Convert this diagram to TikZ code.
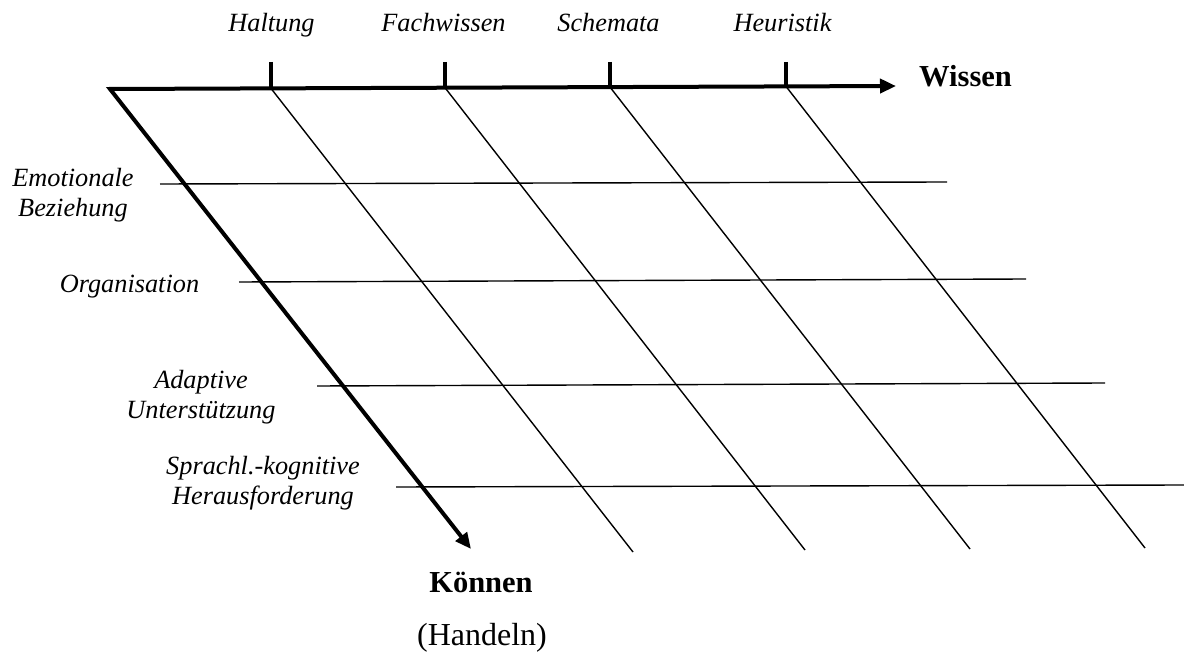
\documentclass[tikz,border=0pt]{standalone}
\usepackage{fontspec}
\setmainfont{Liberation Serif}
\usetikzlibrary{arrows.meta}
\begin{document}
\begin{tikzpicture}[x=1pt,y=-1pt,
  axisline/.style={line width=4pt, line join=miter,
    {Triangle[length=16pt,width=14pt]}-{Triangle[length=16pt,width=14pt]}},
  tickline/.style={line width=4pt},
  gridline/.style={line width=1.4pt},
  toplabel/.style={font=\fontsize{26.3}{29.5}\selectfont\itshape, anchor=base, inner sep=0pt},
  sidelabel/.style={font=\fontsize{26.3}{29.5}\selectfont\itshape, align=center, inner sep=0pt},
  dimlabel/.style={font=\fontsize{30.5}{34}\selectfont\bfseries, anchor=base, inner sep=0pt},
  sublabel/.style={font=\fontsize{32}{36}\selectfont, anchor=base, inner sep=0pt}
]
\useasboundingbox (0,0) rectangle (1184,652);

% axis coordinates
\coordinate (O) at (110,89);
\coordinate (W) at (896,86);
\coordinate (K) at (471,549);

% ticks on Wissen axis
\coordinate (T1) at (271,88.4);  \coordinate (T1u) at (271,62);
\coordinate (T2) at (445,87.7);  \coordinate (T2u) at (445,62);
\coordinate (T3) at (610,87.1);  \coordinate (T3u) at (610,62);
\coordinate (T4) at (786,86.4);  \coordinate (T4u) at (786,62);

% ends of diagonals
\coordinate (D1) at (633,552);
\coordinate (D2) at (805,550);
\coordinate (D3) at (970,549);
\coordinate (D4) at (1145,548);

% horizontal grid lines
\coordinate (H1a) at (160,184);  \coordinate (H1b) at (947,182);
\coordinate (H2a) at (239,282);  \coordinate (H2b) at (1026,279);
\coordinate (H3a) at (317,386);  \coordinate (H3b) at (1105,383);
\coordinate (H4a) at (396,487);  \coordinate (H4b) at (1184,485);

% grid
\draw[gridline] (T1) -- (D1);
\draw[gridline] (T2) -- (D2);
\draw[gridline] (T3) -- (D3);
\draw[gridline] (T4) -- (D4);
\draw[gridline] (H1a) -- (H1b);
\draw[gridline] (H2a) -- (H2b);
\draw[gridline] (H3a) -- (H3b);
\draw[gridline] (H4a) -- (H4b);

% axes
\draw[axisline] (W) -- (O) -- (K);
\draw[tickline] (T1u) -- (T1);
\draw[tickline] (T2u) -- (T2);
\draw[tickline] (T3u) -- (T3);
\draw[tickline] (T4u) -- (T4);

% labels
\node[toplabel] (haltung) at (271.5,32) {Haltung};
\node[toplabel] (fachwissen) at (443.5,32) {Fachwissen};
\node[toplabel] (schemata) at (608.5,32) {Schemata};
\node[toplabel] (heuristik) at (782.5,32) {Heuristik};
\node[dimlabel, anchor=base west] (wissen) at (919,87) {Wissen};
\node[dimlabel] (koennen) at (481,592) {Können};
\node[sublabel] (handeln) at (482,645) {(Handeln)};

\node[sidelabel] (emo) at (73,195) {Emotionale\\Beziehung};
\node[toplabel] (org) at (129.5,293) {Organisation};
\node[sidelabel] (adapt) at (201,397) {Adaptive\\Unterstützung};
\node[sidelabel] (sprach) at (263,483) {Sprachl.-kognitive\\Herausforderung};
\end{tikzpicture}
\end{document}
